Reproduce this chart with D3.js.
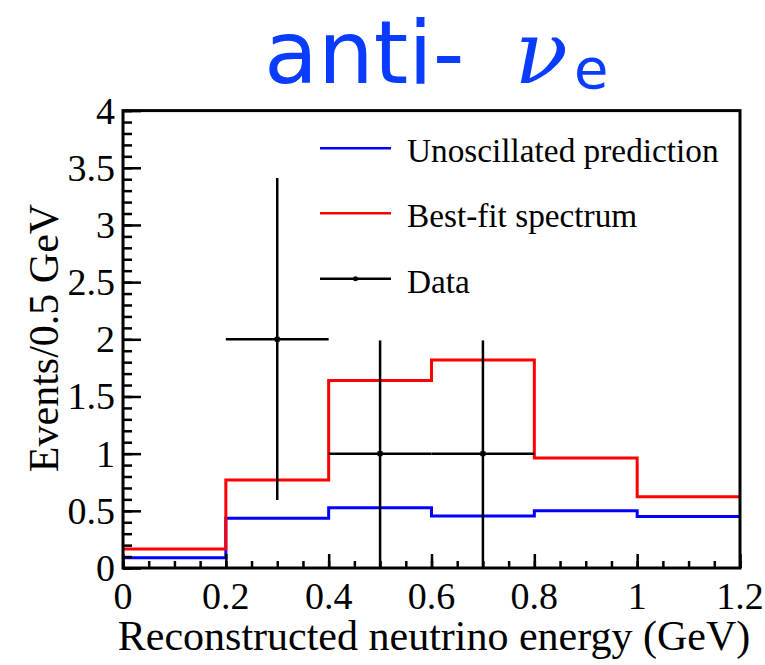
<!DOCTYPE html>
<html><head><meta charset="utf-8">
<script src="https://cdn.jsdelivr.net/npm/d3@7"></script>
<style>body{margin:0;background:#fff}svg{display:block}</style>
</head><body>
<svg id="c" width="765" height="665"></svg>
<script>
// ---- data ----
const binEdges = [0, 0.2, 0.4, 0.6, 0.8, 1.0, 1.2];
const unoscillated = [0.09, 0.435, 0.527, 0.455, 0.50, 0.45];
const bestFit = [0.166, 0.77, 1.64, 1.82, 0.963, 0.624];
const dataX = [0.3, 0.5, 0.7];
const dataY = [2, 1, 1];
const dataXLo = [0.2, 0.4, 0.6];
const dataXHi = [0.4, 0.6, 0.8];
const dataYLo = [0.595, 0, 0];
const dataYHi = [3.41, 1.99, 1.99];
const xTicks = [0, 0.2, 0.4, 0.6, 0.8, 1, 1.2];
const yTicks = [0, 0.5, 1, 1.5, 2, 2.5, 3, 3.5, 4];
const legendLabels = ["Unoscillated prediction", "Best-fit spectrum", "Data"];
const colors = {uno: "#0000ff", fit: "#ff0000", data: "#000000"};

const svg = d3.select("#c");
const L = 123, R = 740, T = 110.6, B = 568;
const x = d3.scaleLinear().domain([0, 1.2]).range([L, R]);
const y = d3.scaleLinear().domain([0, 4]).range([B, T]);
const serif = "'Liberation Serif','Times New Roman',serif";

// histogram step paths
function stepPath(vals) {
  const p = d3.path();
  p.moveTo(x(binEdges[0]), y(vals[0]));
  vals.forEach((v, i) => {
    p.lineTo(x(binEdges[i]), y(v));
    p.lineTo(x(binEdges[i + 1]), y(v));
  });
  return p.toString();
}
svg.append("path").attr("d", stepPath(unoscillated)).attr("fill", "none")
  .attr("stroke", colors.uno).attr("stroke-width", 3);
svg.append("path").attr("d", stepPath(bestFit)).attr("fill", "none")
  .attr("stroke", colors.fit).attr("stroke-width", 3);

// data points
const dg = svg.append("g").attr("stroke", "#000").attr("stroke-width", 2.5);
dataX.forEach((d, i) => {
  dg.append("line").attr("x1", x(dataXLo[i])).attr("x2", x(dataXHi[i]))
    .attr("y1", y(dataY[i])).attr("y2", y(dataY[i]));
  dg.append("line").attr("x1", x(d)).attr("x2", x(d))
    .attr("y1", y(dataYLo[i])).attr("y2", y(dataYHi[i]));
});
svg.append("g").selectAll("rect").data(dataX).join("rect")
  .attr("x", (d) => x(d) - 2.5).attr("y", (d, i) => y(dataY[i]) - 2.5)
  .attr("width", 5).attr("height", 5).attr("fill", "#000");

// axes frame
svg.append("rect").attr("x", L).attr("y", T).attr("width", R - L).attr("height", B - T)
  .attr("fill", "none").attr("stroke", "#000").attr("stroke-width", 3);

// x axis
const xMinor = d3.range(0, 1.2001, 0.05);
const xAxisMinor = d3.axisTop(x).tickValues(xMinor).tickSize(7).tickFormat("");
const xAxisMajor = d3.axisTop(x).tickValues(xTicks).tickSize(14).tickFormat("");
[xAxisMinor, xAxisMajor].forEach(a => {
  const g = svg.append("g").attr("transform", `translate(0,${B})`).call(a);
  g.select(".domain").remove();
  g.selectAll("line").attr("stroke", "#000").attr("stroke-width", 2.5);
});
svg.append("g").selectAll("text").data(xTicks).join("text")
  .attr("x", d => x(d)).attr("y", 609).attr("text-anchor", "middle")
  .attr("font-family", serif).attr("font-size", 38).text(d => d3.format("~g")(d));

// y axis
const yMinor = d3.range(0, 4.0001, 0.1);
const yAxisMinor = d3.axisRight(y).tickValues(yMinor).tickSize(9).tickFormat("");
const yAxisMajor = d3.axisRight(y).tickValues(yTicks).tickSize(18).tickFormat("");
[yAxisMinor, yAxisMajor].forEach(a => {
  const g = svg.append("g").attr("transform", `translate(${L},0)`).call(a);
  g.select(".domain").remove();
  g.selectAll("line").attr("stroke", "#000").attr("stroke-width", 2.5);
});
svg.append("g").selectAll("text").data(yTicks).join("text")
  .attr("x", 115).attr("y", d => y(d) + 13).attr("text-anchor", "end")
  .attr("font-family", serif).attr("font-size", 38).text(d => d3.format("~g")(d));

// axis titles
svg.append("text").attr("x", 434).attr("y", 650).attr("text-anchor", "middle")
  .attr("font-family", serif).attr("font-size", 42)
  .text("Reconstructed neutrino energy (GeV)");
svg.append("text").attr("transform", "translate(58,338) rotate(-90)")
  .attr("text-anchor", "middle").attr("font-family", serif).attr("font-size", 42)
  .text("Events/0.5 GeV");

// legend
const legY = [148.3, 213.3, 278.7];
const legC = [colors.uno, colors.fit, colors.data];
legendLabels.forEach((lab, i) => {
  svg.append("line").attr("x1", 320).attr("x2", 391).attr("y1", legY[i]).attr("y2", legY[i])
    .attr("stroke", legC[i]).attr("stroke-width", 2.5);
  svg.append("text").attr("x", 407).attr("y", legY[i] + 14).attr("font-family", serif)
    .attr("font-size", 33.3).text(lab);
});
svg.append("circle").attr("cx", 355.5).attr("cy", legY[2]).attr("r", 2.5).attr("fill", "#000");

// title
const title = svg.append("text").attr("y", 83).attr("fill", "#0a3cff");
title.append("tspan").attr("x", 264).attr("font-family", "'DejaVu Sans',sans-serif")
  .attr("font-size", 88).text("anti-");
title.append("tspan").attr("font-family", "'DejaVu Serif',serif").attr("font-style", "italic")
  .attr("font-size", 88).attr("dx", 50).text("ν");
title.append("tspan").attr("font-family", "'DejaVu Sans',sans-serif")
  .attr("font-size", 56).attr("dx", 6).attr("dy", 5).text("e");
</script>
</body></html>
